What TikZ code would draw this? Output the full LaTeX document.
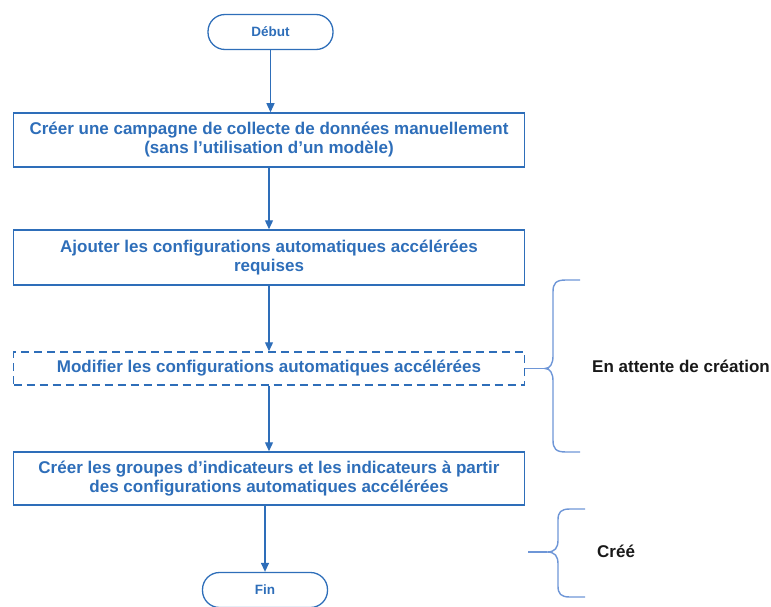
\documentclass[tikz,border=0pt]{standalone}
\usepackage{fontspec}
\setmainfont{Liberation Sans}
\usetikzlibrary{arrows.meta}
\definecolor{bleu}{RGB}{46,110,185}
\definecolor{bleuclair}{RGB}{110,150,215}
\definecolor{noir}{RGB}{25,25,25}
\tikzset{
  etape/.style={draw=bleu,line width=1.5pt,minimum width=511pt,text=bleu,
    font=\fontsize{17}{19}\selectfont\bfseries,align=center,inner sep=0pt},
  terminal/.style={draw=bleu,line width=1.3pt,rounded corners=17pt,minimum width=125pt,
    minimum height=35pt,text=bleu,font=\fontsize{13.5}{15}\selectfont\bfseries},
  fleche/.style={draw=bleu,line width=1.3pt,-{Triangle[length=9pt,width=8pt]}},
  accolade/.style={draw=bleuclair,line width=1.4pt},
  etiquette/.style={anchor=west,inner sep=0pt,text=noir,font=\fontsize{17}{19}\selectfont\bfseries}
}
\begin{document}
\begin{tikzpicture}[x=1pt,y=-1pt]
  \useasboundingbox (0,0) rectangle (771,607);
  % etapes
  \node[terminal] (debut) at (270.5,32) {Début};
  \node[etape,minimum height=54pt] (creer) at (269,140)
    {Créer une campagne de collecte de données manuellement\\(sans l’utilisation d’un modèle)};
  \node[etape,minimum height=55pt] (ajouter) at (269,257.5)
    {Ajouter les configurations automatiques accélérées\\requises};
  \node[etape,minimum height=33pt,dash pattern=on 8pt off 5pt] (modifier) at (269,368.5)
    {Modifier les configurations automatiques accélérées};
  \node[etape,minimum height=53pt] (indicateurs) at (269,478.5)
    {Créer les groupes d’indicateurs et les indicateurs à partir\\des configurations automatiques accélérées};
  \node[terminal] (fin) at (265,590) {Fin};
  % fleches
  \draw[fleche] (debut) -- (debut |- creer.north);
  \draw[fleche] (creer) -- (ajouter);
  \draw[fleche] (ajouter) -- (modifier);
  \draw[fleche] (modifier) -- (indicateurs);
  \draw[fleche] (indicateurs.south -| fin) -- (fin);
  % accolades
  \coordinate (pointe1) at (545,368.5);
  \draw[accolade] (580,280) -- (566,280) .. controls (556,280) and (553,283) .. (553,292)
    -- (553,356) .. controls (553,364) and (550,368.5) .. (pointe1)
    .. controls (550,368.5) and (553,373) .. (553,381) -- (553,440)
    .. controls (553,449) and (556,452) .. (566,452) -- (580,452);
  \draw[accolade] (pointe1) -- (pointe1 -| modifier.east);
  \node[etiquette] (attente) at (592,366) {En attente de création};
  \coordinate (pointe2) at (547,552);
  \coordinate (bout2) at (528,552);
  \draw[accolade] (585,509) -- (570,509) .. controls (561,509) and (558,512) .. (558,520)
    -- (558,540) .. controls (558,548) and (555,552) .. (pointe2)
    .. controls (555,552) and (558,556) .. (558,564) -- (558,586)
    .. controls (558,594) and (561,597) .. (570,597) -- (585,597);
  \draw[accolade] (pointe2) -- (bout2);
  \node[etiquette] (cree) at (597,551) {Créé};
\end{tikzpicture}
\end{document}
